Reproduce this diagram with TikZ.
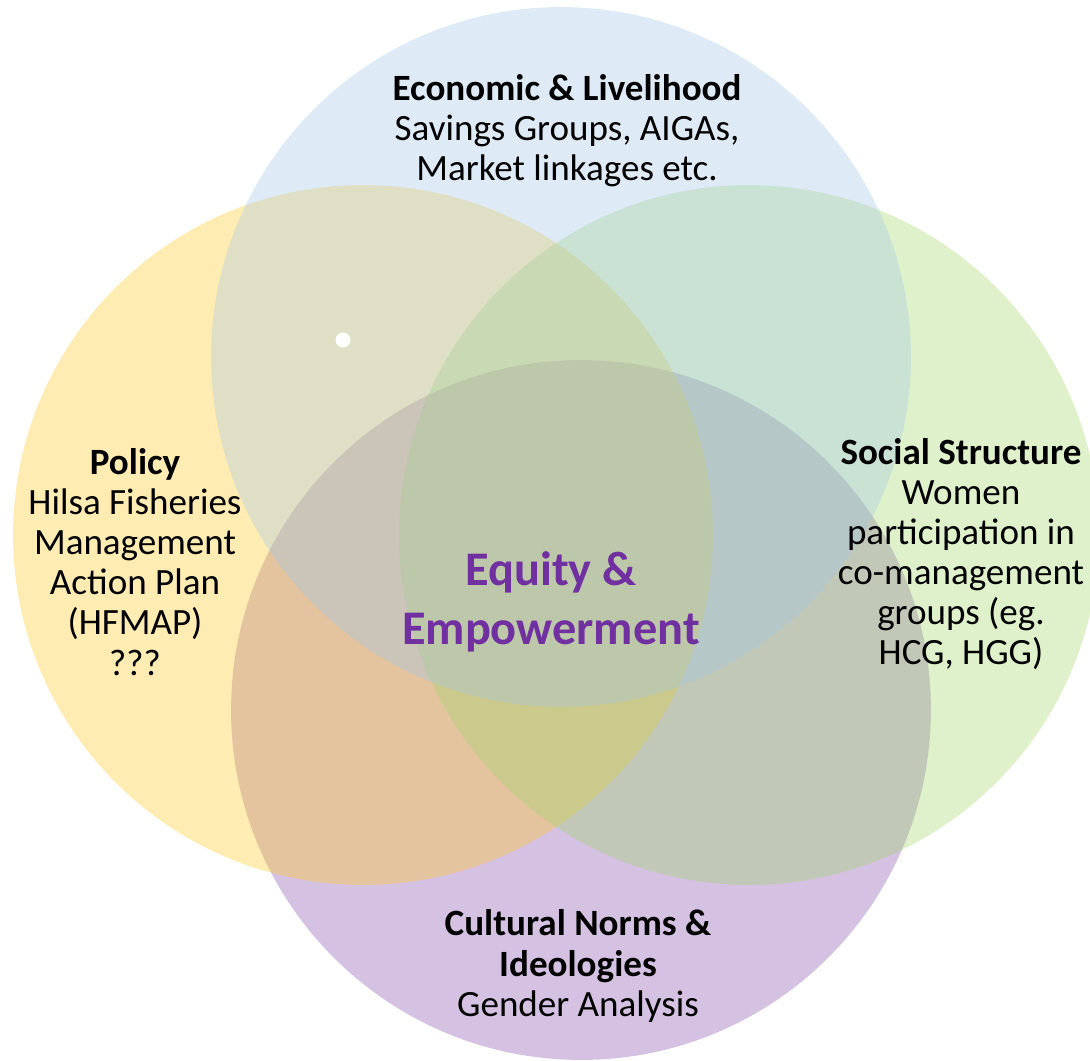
\documentclass[tikz,border=0pt]{standalone}
\usepackage{fontspec}
\setmainfont{Carlito}
\definecolor{econblue}{RGB}{161,198,232}
\definecolor{policyyellow}{RGB}{255,201,35}
\definecolor{socialgreen}{RGB}{161,215,104}
\definecolor{culturepurple}{RGB}{134,78,172}
\definecolor{equitypurple}{HTML}{7030A0}
\tikzset{
vennset/.style={ % One translucent circle of the Venn diagram
fill opacity=0.35},
venntext/.style={ % Heading and text inside a circle
align=center,
inner sep=0pt,
font=\fontsize{21.1}{22.8}\selectfont},
centretext/.style={ % Text where all four circles meet
align=center,
inner sep=0pt,
text=equitypurple,
font=\fontsize{27.5}{33.6}\selectfont\bfseries}}
\begin{document}
\begin{tikzpicture}[x=0.02cm, y=-0.02cm]
\useasboundingbox (0,0) rectangle (1090,1061);
\clip (0,0) rectangle (1090,1061);
\fill[vennset, fill=culturepurple] (581,710) circle[radius=7cm];
\fill[vennset, fill=policyyellow] (363,535) circle[radius=7cm];
\fill[vennset, fill=socialgreen] (749,535) circle[radius=7cm];
\fill[vennset, fill=econblue] (561,357) circle[radius=7cm];
\fill[white] (343,340) circle[radius=0.15cm];
\node[venntext] (econ) at (567,131) {\textbf{Economic \& Livelihood}\\Savings Groups, AIGAs,\\Market linkages etc.};
\node[venntext] (policy) at (135,562) {\textbf{Policy}\\Hilsa Fisheries\\Management\\Action Plan\\(HFMAP)\\???};
\node[venntext] (social) at (961,554) {\textbf{Social Structure}\\Women\\participation in\\co-management\\groups (eg.\\HCG, HGG)};
\node[venntext] (culture) at (578,966) {\textbf{Cultural Norms \&}\\\textbf{Ideologies}\\Gender Analysis};
\node[centretext] (equity) at (551,602) {Equity \&\\Empowerment};
\end{tikzpicture}
\end{document}
